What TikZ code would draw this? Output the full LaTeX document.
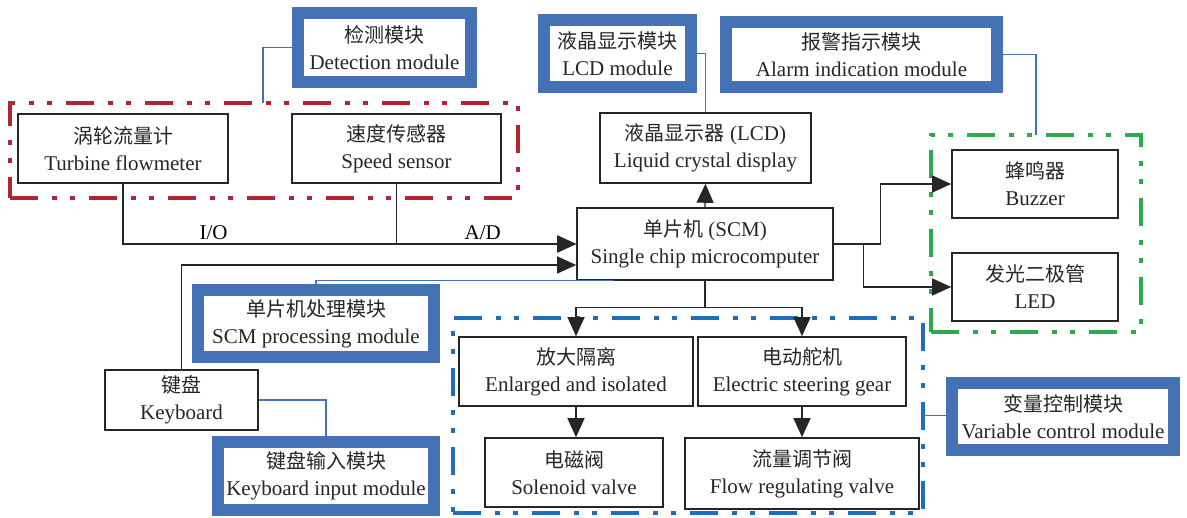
\documentclass[tikz,border=0pt]{standalone}
\usepackage{fontspec}
\setmainfont{Liberation Serif}
\newfontfamily\cjk{Noto Sans CJK SC}
\usetikzlibrary{arrows.meta}
\definecolor{modblue}{RGB}{68,114,180}
\definecolor{grpred}{RGB}{180,35,50}
\definecolor{grpgreen}{RGB}{45,170,75}
\definecolor{grpblue}{RGB}{30,110,185}
\newcommand{\zh}[1]{{\cjk\fontsize{20}{27}\selectfont #1}}

\begin{document}
\begin{tikzpicture}[x=1pt,y=-1pt,>={Triangle[length=19pt,width=17pt]},font=\fontsize{21}{27}\selectfont,
  blk/.style={draw=black!85,line width=1.6pt,align=center,inner sep=0pt,text=black!85},
  mod/.style={draw=modblue,line width=12pt,fill=white,align=center,inner sep=0pt,text=black!85},
  grp/.style={line width=3.5pt,dash pattern=on 28pt off 14pt on 5pt off 13pt on 5pt off 14pt,inner sep=0pt,outer sep=0pt},
  link/.style={draw=modblue,line width=1.2pt},
  wire/.style={draw=black!85,line width=1.3pt}]
\fill[white] (0,0) rectangle (1187,518);
\useasboundingbox (0,0) rectangle (1187,518);
\node[grp,draw=grpred,minimum width=508pt,minimum height=95pt] (detgrp) at (264,150.5) {};
\node[grp,draw=grpgreen,minimum width=210pt,minimum height=197pt] (alagrp) at (1036,233.5) {};
\node[grp,draw=grpblue,minimum width=470pt,minimum height=195pt] (ctlgrp) at (688,415.5) {};
\node[blk,minimum width=210pt,minimum height=69pt] (turb) at (123,148.5) {\zh{涡轮流量计}\\Turbine flowmeter};
\node[blk,minimum width=209pt,minimum height=69pt] (speed) at (396.5,148.5) {\zh{速度传感器}\\Speed sensor};
\node[blk,minimum width=211pt,minimum height=70pt] (lcd) at (705.5,148) {\zh{液晶显示器} (LCD)\\Liquid crystal display};
\node[blk,minimum width=256pt,minimum height=72pt] (scm) at (705,244) {\zh{单片机} (SCM)\\Single chip microcomputer};
\node[blk,minimum width=166pt,minimum height=68pt] (buzz) at (1035,184) {\zh{蜂鸣器}\\Buzzer};
\node[blk,minimum width=166pt,minimum height=68pt] (led) at (1035,287) {\zh{发光二极管}\\LED};
\node[blk,minimum width=234pt,minimum height=69pt] (enl) at (576,371.5) {\zh{放大隔离}\\Enlarged and isolated};
\node[blk,minimum width=208pt,minimum height=69pt] (steer) at (802,371.5) {\zh{电动舵机}\\Electric steering gear};
\node[blk,minimum width=178pt,minimum height=69pt] (sol) at (574,472.5) {\zh{电磁阀}\\Solenoid valve};
\node[blk,minimum width=234pt,minimum height=71pt] (flow) at (802,473.5) {\zh{流量调节阀}\\Flow regulating valve};
\node[blk,minimum width=153pt,minimum height=60pt] (kbd) at (181.5,400) {\zh{键盘}\\Keyboard};
\node[mod,minimum width=173pt,minimum height=69pt] (detmod) at (384.5,47.5) {\zh{检测模块}\\Detection module};
\node[mod,minimum width=147pt,minimum height=67pt] (lcdmod) at (617.5,53.5) {\zh{液晶显示模块}\\LCD module};
\node[mod,minimum width=271pt,minimum height=65pt] (almmod) at (861.5,54.5) {\zh{报警指示模块}\\Alarm indication module};
\node[mod,minimum width=236pt,minimum height=67pt] (procmod) at (316,323.5) {\zh{单片机处理模块}\\SCM processing module};
\node[mod,minimum width=216pt,minimum height=68pt] (kinmod) at (326,476) {\zh{键盘输入模块}\\Keyboard input module};
\node[mod,minimum width=222pt,minimum height=67pt] (varmod) at (1063,416.5) {\zh{变量控制模块}\\Variable control module};
\coordinate (dettap) at (263,0);
\coordinate[xshift=38pt] (scmtap) at (scm.south west);
\draw[link] (detmod.west) -| (dettap |- detgrp.north);
\draw[link] (lcdmod.east) -| (lcd.north);
\draw[link] (almmod.east) -| (alagrp.north);
\draw[link] (procmod.north) |- (scmtap);
\draw[link] (kbd.east) -| (kinmod.north);
\draw[link] (ctlgrp.east) -- (ctlgrp.east -| varmod.west);
\draw[wire,->] (turb.south) |- node[pos=0.6,above]{I/O} (scm.west);
\draw[wire,->] (speed.south) |- node[pos=0.74,above]{A/D} (scm.west);
\draw[wire,->] (kbd.north) |- ([yshift=-21pt]scm.west);
\draw[wire,->] (scm.north) -- (lcd.south);
\draw[wire,->] (scm.east) -- ++(47,0) |- (buzz.west);
\draw[wire,->] (scm.east) -- ++(30,0) |- (led.west);
\draw[wire,->] (scm.south) -- ++(0,27) -| (enl.north);
\draw[wire,->] (scm.south) -- ++(0,27) -| (steer.north);
\draw[wire,->] (enl.south) -- (enl.south |- sol.north);
\draw[wire,->] (steer.south) -- (steer.south |- flow.north);
\end{tikzpicture}
\end{document}
